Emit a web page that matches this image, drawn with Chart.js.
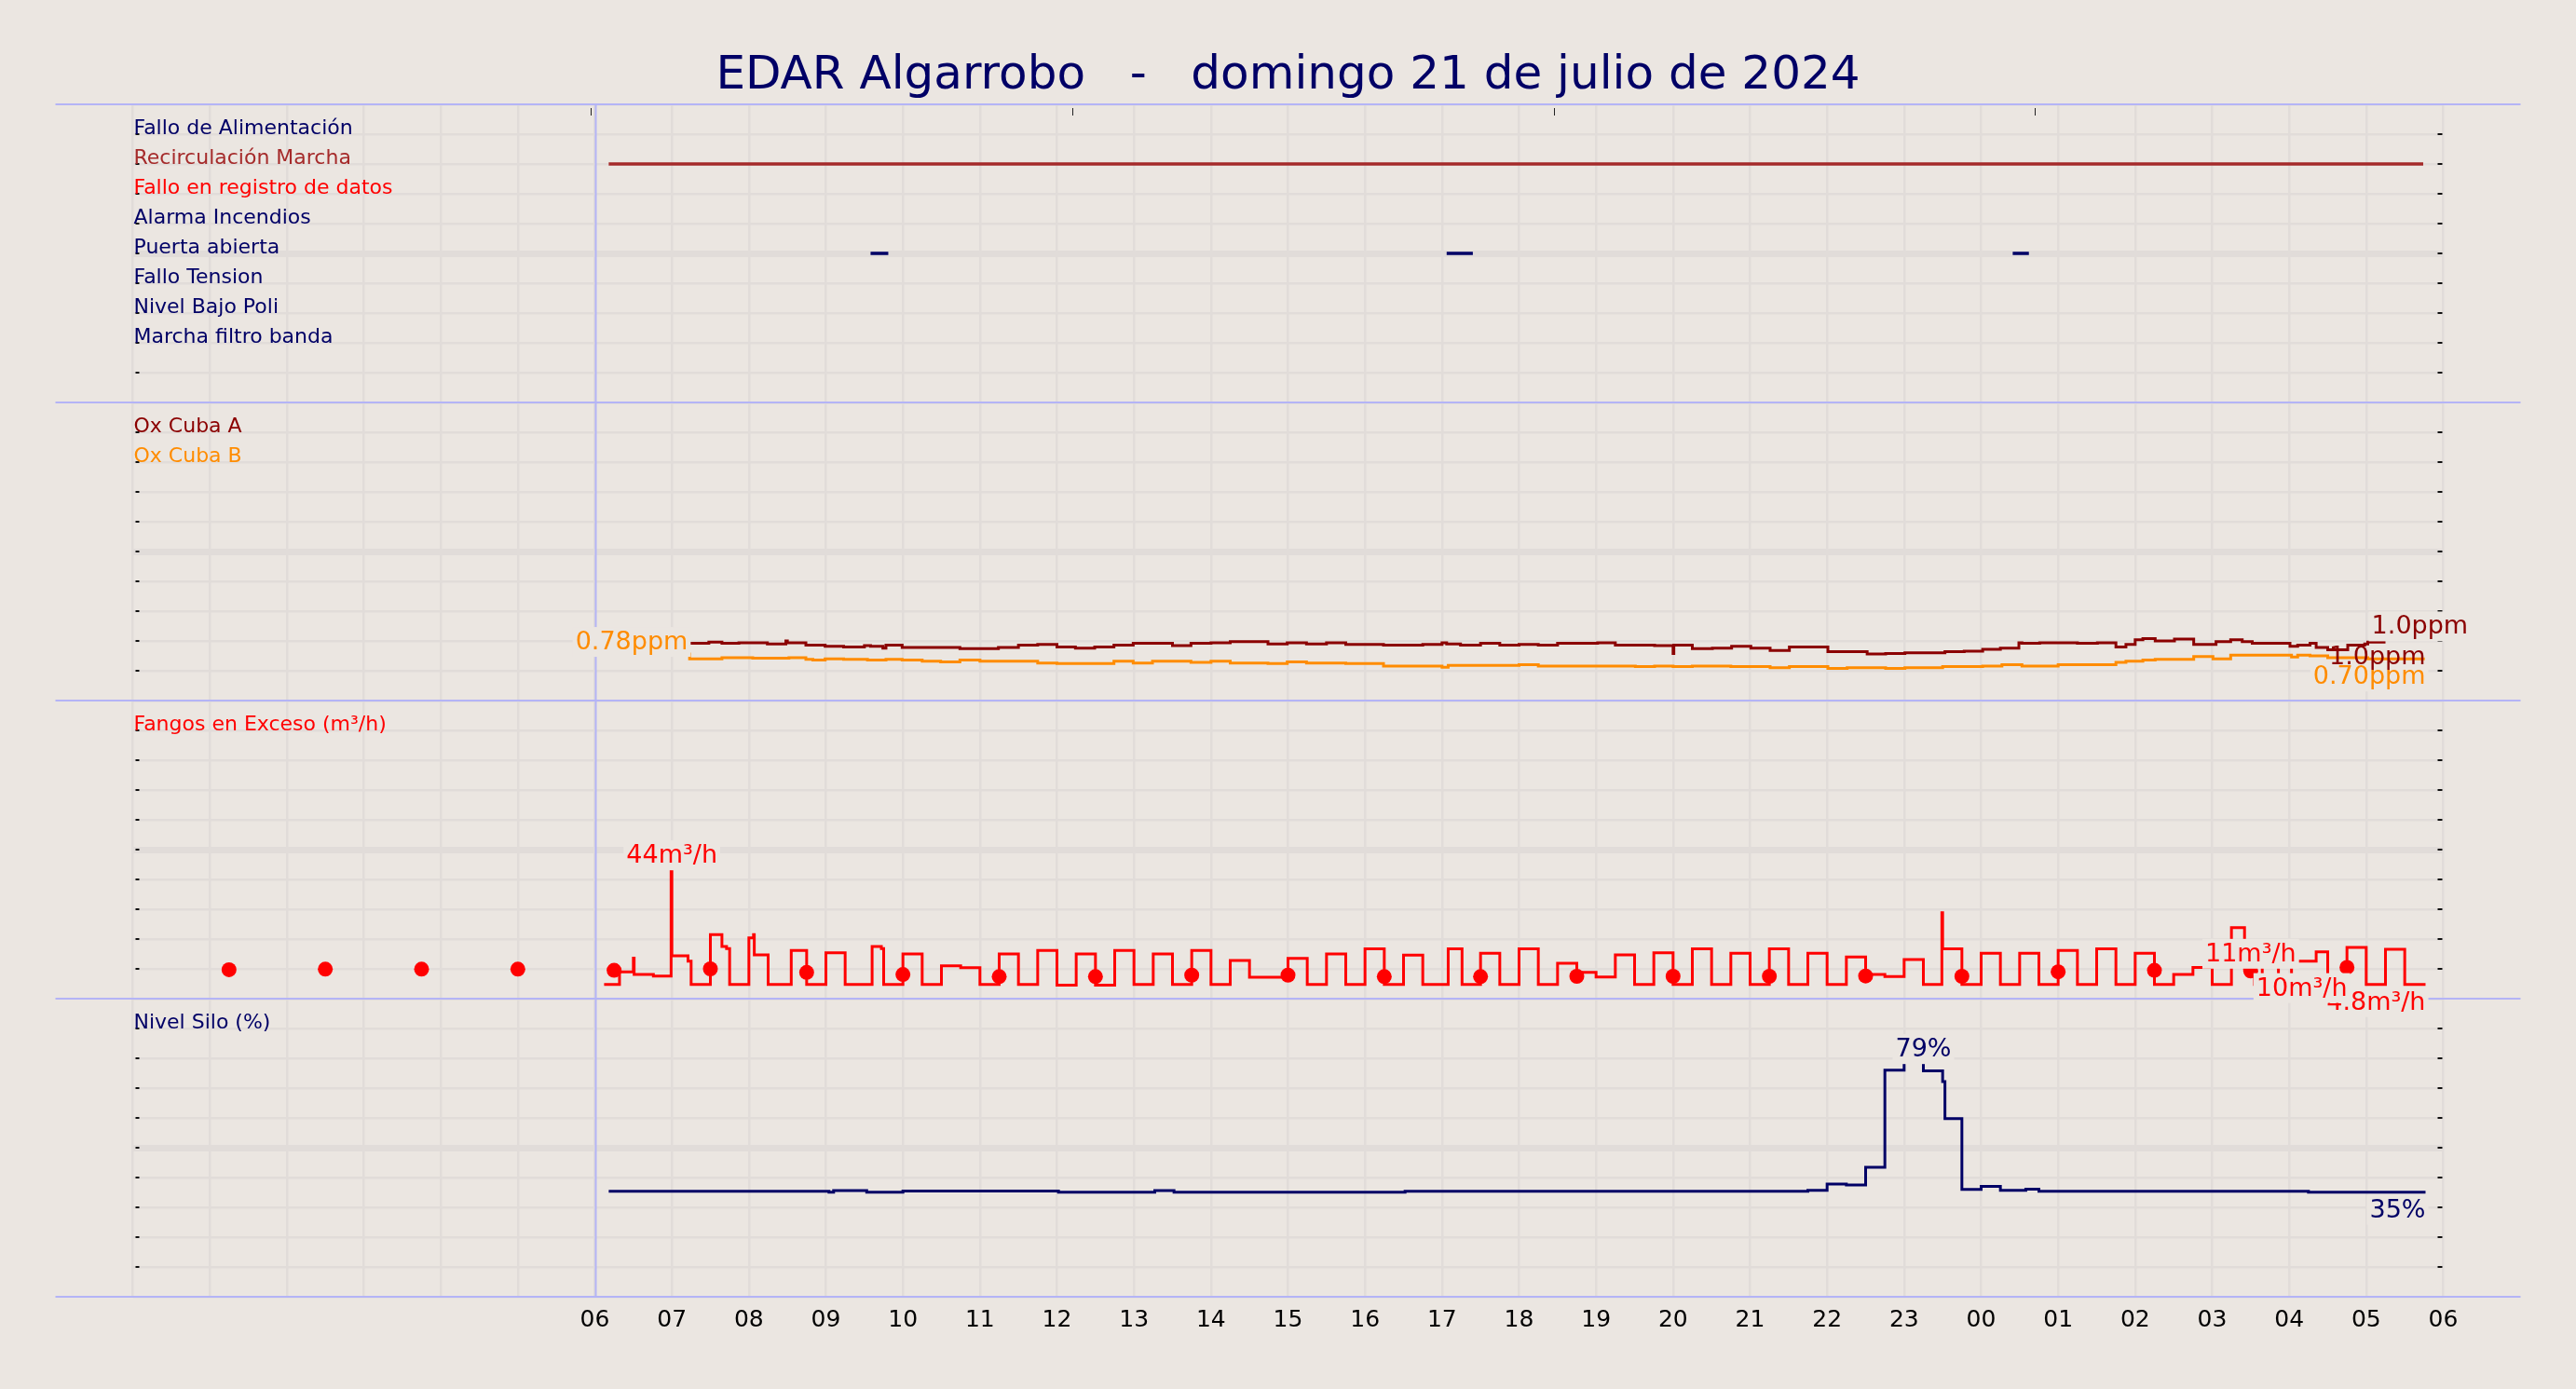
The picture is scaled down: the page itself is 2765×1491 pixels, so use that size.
<!DOCTYPE html>
<html>
<head>
<meta charset="utf-8">
<title>EDAR Algarrobo</title>
<script src="https://cdn.jsdelivr.net/npm/chart.js@4.4.1/dist/chart.umd.min.js"></script>
<style>
  html, body { margin: 0; padding: 0; background: #ebe6e1; }
  canvas { display: block; }
</style>
</head>
<body>
<canvas id="myChart" width="2765" height="1491"></canvas>
<script>
// all times are hours counted from 00:00 of sunday 21 (so 24 = 00:00 of monday)
var startHour = 6;
var topTicks = [5.95, 12.2, 18.45, 24.7];

var signalNames = ["Fallo de Alimentación", "Recirculación Marcha", "Fallo en registro de datos",
  "Alarma Incendios", "Puerta abierta", "Fallo Tension", "Nivel Bajo Poli", "Marcha filtro banda"];
var signalColors = ["#000066", "#a52a2a", "#ff0000", "#000066", "#000066", "#000066", "#000066", "#000066"];
var recircOn = [[6.18, 29.74]];
var puertaOn = [[9.58, 9.81], [17.06, 17.40], [24.41, 24.62]];
var signalSpans = [[], recircOn, [], [], puertaOn, [], [], []];

// Ox Cuba A / B (ppm), step values; last time = end of the line
var oxA_t = [7.23, 7.48, 7.65, 7.87, 8.24, 8.48, 8.5, 8.74, 8.99, 9.23, 9.5, 9.58, 9.74, 9.78, 9.99, 10.74,
  11.24, 11.5, 11.75, 12.0, 12.24, 12.49, 12.74, 12.99, 13.5, 13.74, 14.0, 14.25, 14.74, 14.99, 15.24, 15.5,
  15.75, 16.24, 16.75, 17.0, 17.06, 17.24, 17.5, 17.75, 18.0, 18.25, 18.5, 19.02, 19.25, 19.76, 20.0, 20.01,
  20.25, 20.51, 20.76, 21.01, 21.26, 21.51, 22.01, 22.52, 22.76, 23.01, 23.53, 23.78, 24.02, 24.25, 24.49,
  24.53, 24.76, 25.25, 25.51, 25.75, 25.88, 26.0, 26.1, 26.26, 26.51, 26.76, 27.05, 27.24, 27.39, 27.52,
  28.01, 28.11, 28.27, 28.35, 28.5, 28.76, 28.98, 29.02, 29.25];
var oxA_v = [0.96, 0.98, 0.96, 0.97, 0.95, 1.0, 0.97, 0.93, 0.91, 0.90, 0.92, 0.91, 0.88, 0.93, 0.89, 0.87,
  0.89, 0.93, 0.94, 0.90, 0.88, 0.90, 0.93, 0.96, 0.92, 0.96, 0.97, 0.99, 0.95, 0.97, 0.95, 0.97,
  0.94, 0.93, 0.94, 0.97, 0.95, 0.93, 0.96, 0.93, 0.94, 0.93, 0.96, 0.97, 0.93, 0.92, 0.79, 0.93,
  0.87, 0.88, 0.91, 0.88, 0.84, 0.90, 0.82, 0.78, 0.79, 0.80, 0.82, 0.83, 0.86, 0.88, 0.97,
  0.96, 0.97, 0.96, 0.97, 0.90, 0.94, 1.02, 1.04, 1.0, 1.03, 0.94, 0.99, 1.02, 0.99, 0.96,
  0.91, 0.93, 0.96, 0.89, 0.85, 0.93, 0.95, 0.98];
var oxB_t = [7.22, 7.23, 7.65, 8.05, 8.52, 8.74, 8.83, 8.99, 9.23, 9.54, 9.78, 9.99, 10.25, 10.49, 10.74,
  11.0, 11.75, 12.0, 12.74, 12.99, 13.24, 13.74, 14.0, 14.25, 14.74, 14.99, 15.24, 15.75, 16.24, 17.0, 17.08,
  18.0, 18.25, 19.51, 19.76, 20.0, 20.25, 20.75, 21.26, 21.51, 22.01, 22.26, 22.76, 23.01, 23.5, 24.02,
  24.27, 24.53, 25.0, 25.75, 25.88, 26.1, 26.26, 26.76, 27.01, 27.24, 28.03, 28.11, 28.27, 28.5, 29.02, 29.76];
var oxB_v = [0.78, 0.70, 0.72, 0.71, 0.72, 0.69, 0.68, 0.70, 0.69, 0.68, 0.69, 0.68, 0.66, 0.65, 0.68,
  0.66, 0.63, 0.62, 0.66, 0.63, 0.66, 0.64, 0.66, 0.63, 0.62, 0.65, 0.63, 0.62, 0.58, 0.56, 0.59,
  0.60, 0.58, 0.57, 0.58, 0.57, 0.58, 0.57, 0.55, 0.57, 0.54, 0.55, 0.54, 0.55, 0.57, 0.58,
  0.60, 0.58, 0.60, 0.64, 0.66, 0.68, 0.69, 0.74, 0.70, 0.76, 0.73, 0.76, 0.75, 0.72, 0.70];

// Fangos en Exceso (m3/h)
var fangos_t = [6.12, 6.32, 6.50, 6.51, 6.76, 6.99, 7.0, 7.21, 7.25, 7.5, 7.65, 7.71, 7.75, 8.0, 8.06, 8.07,
  8.25, 8.55, 8.75, 9.0, 9.25, 9.6, 9.72, 9.75, 10.0, 10.25, 10.5, 10.75, 11.0, 11.25, 11.5, 11.75, 12.0,
  12.25, 12.5, 12.75, 13.0, 13.25, 13.5, 13.75, 14.0, 14.25, 14.5, 15.0, 15.25, 15.5, 15.75, 16.0, 16.25,
  16.5, 16.75, 17.08, 17.26, 17.5, 17.75, 18.0, 18.25, 18.5, 18.75, 19.0, 19.25, 19.5, 19.75, 20.0, 20.25,
  20.5, 20.75, 21.0, 21.25, 21.5, 21.75, 22.0, 22.25, 22.5, 22.75, 23.0, 23.25, 23.49, 23.5, 23.75, 24.0,
  24.25, 24.5, 24.75, 25.0, 25.25, 25.5, 25.75, 26.0, 26.25, 26.5, 26.75, 27.0, 27.25, 27.42, 27.55, 27.65,
  27.86, 28.03, 28.35, 28.5, 28.75, 29.0, 29.25, 29.5, 29.77];
var fangos_v = [4.8, 9.0, 13.6, 8.1, 7.6, 44, 14.4, 12.6, 4.8, 21.5, 17.5, 16.8, 4.8, 20.4, 21.5, 14.7,
  4.8, 16.2, 4.8, 15.4, 4.8, 17.5, 16.8, 4.8, 15.0, 4.8, 11.0, 10.4, 4.8, 15.0, 4.8, 16.2, 4.5,
  15.0, 4.5, 16.2, 4.8, 15.0, 4.8, 16.2, 4.8, 12.8, 7.2, 13.5, 4.8, 15.0, 4.8, 16.7, 4.8,
  14.6, 4.8, 16.7, 4.8, 15.2, 4.8, 16.7, 4.8, 11.9, 8.8, 7.3, 14.7, 4.8, 15.4, 4.8, 16.7,
  4.8, 15.2, 4.8, 16.7, 4.8, 15.2, 4.8, 14.0, 8.1, 7.4, 13.1, 4.8, 28.8, 16.7, 4.8, 15.2,
  4.8, 15.2, 4.8, 16.2, 4.8, 16.7, 4.8, 15.2, 4.8, 8.1, 10.5, 4.8, 23.8, 10.0, 4.8, 15.0,
  4.8, 12.6, 15.7, 4.8, 17.2, 4.8, 16.6, 4.8];
var fangosDots_t = [1.25, 2.5, 3.75, 5.0, 6.25, 7.5, 8.75, 10.0, 11.25, 12.5, 13.75, 15.0, 16.25, 17.5,
  18.75, 20.0, 21.25, 22.5, 23.75, 25.0, 26.25, 27.5, 28.75];
var fangosDots_v = [9.7, 9.9, 9.9, 9.9, 9.5, 10.0, 8.8, 8.1, 7.4, 7.4, 7.9, 7.9, 7.4, 7.4,
  7.5, 7.5, 7.5, 7.6, 7.5, 9.0, 9.5, 9.3, 10.5];

// Nivel Silo (%)
var silo_t = [6.18, 9.04, 9.10, 9.53, 10.0, 12.02, 13.27, 13.52, 16.52, 21.75, 22.0, 22.25, 22.5, 22.75,
  23.0, 23.25, 23.5, 23.53, 23.75, 24.0, 24.25, 24.58, 24.75, 28.25, 29.77];
var silo_v = [35.4, 35.1, 35.6, 35.1, 35.5, 35.1, 35.6, 35.1, 35.4, 35.7, 37.8, 37.5, 43.4, 76.0,
  79, 75.8, 72.2, 59.8, 36.0, 37.0, 35.7, 36.1, 35.4, 35.1];

var navy = "#000066", darkred = "#8b0000", orange = "#ff8c00", red = "#ff0000";
var bg = "#ebe6e1", gridColor = "#e1dcd9", frameBlue = "#b4b4f6";

var notes = [
  {text: "0.78ppm", axis: "yOx", x: 7.22, y: 0.78, align: "right", va: "bottom", color: orange, dx: -1},
  {text: "1.0ppm", axis: "yOx", x: 29.07, y: 1.04, align: "left", va: "bottom", color: darkred},
  {text: "0.70ppm", axis: "yOx", x: 29.77, y: 0.70, align: "right", va: "top", color: orange},
  {text: "1.0ppm", axis: "yOx", x: 29.77, y: 0.98, align: "right", va: "top", color: darkred, dy: -3, box: false},
  {text: "44m³/h", axis: "yFan", x: 7.0, y: 44, align: "center", va: "bottom", color: red},
  {text: "4.8m³/h", axis: "yFan", x: 29.77, y: 4.8, align: "right", va: "top", color: red},
  {text: "11m³/h", axis: "yFan", x: 27.5, y: 11, align: "center", va: "bottom", color: red},
  {text: "10m³/h", axis: "yFan", x: 27.5, y: 9.5, align: "left", va: "top", color: red, dx: 6},
  {text: "79%", axis: "ySilo", x: 23.25, y: 79, align: "center", va: "bottom", color: navy},
  {text: "35%", axis: "ySilo", x: 29.77, y: 35.1, align: "right", va: "top", color: navy}
];

function steps(t, v) {
  var pts = [];
  for (var i = 0; i < v.length; i++) pts.push({x: t[i], y: v[i]});
  pts.push({x: t[t.length - 1], y: v[v.length - 1]});
  return pts;
}

function spans(list, level) {
  var pts = [];
  list.forEach(function (s) {
    pts.push({x: s[0], y: level}, {x: s[1], y: level}, {x: s[1], y: null});
  });
  return pts;
}

var datasets = [];
signalNames.forEach(function (name, i) {
  datasets.push({label: name, yAxisID: "ySig", row: 9 - i, data: spans(signalSpans[i], 9 - i),
    borderColor: signalColors[i], borderWidth: 3.4, pointRadius: 0});
});
datasets.push({label: "Ox Cuba A", yAxisID: "yOx", row: 9, data: steps(oxA_t, oxA_v),
  borderColor: darkred, borderWidth: 3, pointRadius: 0, stepped: true});
datasets.push({label: "Ox Cuba B", yAxisID: "yOx", row: 8, data: steps(oxB_t, oxB_v),
  borderColor: orange, borderWidth: 3, pointRadius: 0, stepped: true});
datasets.push({label: "Fangos en Exceso (m³/h)", yAxisID: "yFan", row: 9, data: steps(fangos_t, fangos_v),
  borderColor: red, borderWidth: 3, pointRadius: 0, stepped: true});
datasets.push({label: "fangos media", yAxisID: "yFan",
  data: fangosDots_t.map(function (t, i) { return {x: t, y: fangosDots_v[i]}; }),
  showLine: false, pointRadius: 8, pointBackgroundColor: red, pointBorderWidth: 0});
datasets.push({label: "Nivel Silo (%)", yAxisID: "ySilo", row: 9, data: steps(silo_t, silo_v),
  borderColor: navy, borderWidth: 3, pointRadius: 0, stepped: true});

var overlay = {
  id: "overlay",
  beforeDatasetsDraw: function (chart) {
    var ctx = chart.ctx, a = chart.chartArea, x = chart.scales.x;
    var panels = ["ySig", "yOx", "yFan", "ySilo"];
    ctx.save();
    // small ticks inside the frame
    ctx.fillStyle = "#111";
    panels.forEach(function (id) {
      var s = chart.scales[id];
      s.ticks.forEach(function (t, i) {
        if (i === 0 || i === s.ticks.length - 1) return;
        var y = Math.round(s.getPixelForValue(t.value));
        ctx.fillRect(a.left + 3, y - 1, 4, 2);
        ctx.fillRect(a.right - 6, y - 1, 5, 2);
      });
    });
    ctx.fillStyle = "#222";
    topTicks.forEach(function (h) {
      ctx.fillRect(Math.round(x.getPixelForValue(h)), a.top + 4, 1, 8);
    });
    // blue frame lines
    ctx.strokeStyle = frameBlue;
    ctx.lineWidth = 2;
    ctx.beginPath();
    panels.forEach(function (id) {
      var y = chart.scales[id].top;
      ctx.moveTo(a.left - 83, y); ctx.lineTo(a.right + 83, y);
    });
    ctx.moveTo(a.left - 83, a.bottom); ctx.lineTo(a.right + 83, a.bottom);
    var x6 = Math.round(x.getPixelForValue(startHour)) + 0.5;
    ctx.moveTo(x6, a.top); ctx.lineTo(x6, a.bottom);
    ctx.stroke();
    ctx.restore();
  },
  afterDatasetsDraw: function (chart) {
    var ctx = chart.ctx, a = chart.chartArea;
    ctx.save();
    ctx.textAlign = "left";
    ctx.textBaseline = "alphabetic";
    ctx.font = '22px "DejaVu Sans"';
    chart.data.datasets.forEach(function (ds) {
      if (ds.row === undefined) return;
      var s = chart.scales[ds.yAxisID];
      var y = s.getPixelForValue(s.min + ds.row * (s.max - s.min) / 10);
      ctx.fillStyle = ds.borderColor;
      ctx.fillText(ds.label, a.left + 1, y);
    });
    ctx.font = '27px "DejaVu Sans"';
    notes.forEach(function (n) {
      var px = chart.scales.x.getPixelForValue(n.x) + (n.dx || 0);
      var py = chart.scales[n.axis].getPixelForValue(n.y);
      var base = (n.va === "top" ? py + 27 : py - 5) + (n.dy || 0);
      var w = ctx.measureText(n.text).width;
      var left = n.align === "left" ? px : n.align === "right" ? px - w : px - w / 2;
      if (n.box !== false) {
        ctx.fillStyle = bg;
        ctx.fillRect(left - 3, base - 24, w + 6, 32);
      }
      ctx.fillStyle = n.color;
      ctx.fillText(n.text, left, base);
    });
    ctx.restore();
  }
};

// stacked panels: chart.js places the higher weight on top here
function panelAxis(weight, max, step) {
  return {
    type: "linear", position: "left", stack: "panels", stackWeight: 1, weight: weight,
    min: 0, max: max,
    ticks: {display: false, stepSize: step},
    grid: {color: gridColor, drawTicks: false,
      lineWidth: function (c) { return c.index === 5 ? 7 : 2.6; }},
    border: {display: false},
    afterFit: function (s) { s.width = 0; }
  };
}

Chart.defaults.font.family = "DejaVu Sans";

var ctx = document.getElementById("myChart");
var myChart = new Chart(ctx, {
  type: "line",
  data: {datasets: datasets},
  options: {
    responsive: false,
    animation: false,
    devicePixelRatio: 1,
    layout: {autoPadding: false, padding: {left: 142.5, right: 142.5, top: 0, bottom: 39}},
    elements: {line: {tension: 0, borderCapStyle: "butt"}},
    plugins: {
      legend: {display: false},
      tooltip: {enabled: false},
      title: {
        display: true,
        text: "EDAR Algarrobo   -   domingo 21 de julio de 2024",
        color: navy,
        font: {size: 50, weight: "normal", lineHeight: 1.2},
        padding: {top: 52, bottom: 0}
      }
    },
    scales: {
      x: {
        type: "linear", min: 0, max: 30, position: "bottom",
        ticks: {
          stepSize: 1, autoSkip: false, maxRotation: 0, color: "#000", padding: 10,
          font: {size: 25},
          callback: function (v) { return v >= startHour ? String(v % 24).padStart(2, "0") : ""; }
        },
        grid: {color: gridColor, lineWidth: 2.5, drawTicks: false},
        border: {display: false},
        afterFit: function (s) { s.height = 60; }
      },
      ySig: panelAxis(4, 10, 1),
      yOx: panelAxis(3, 5, 0.5),
      yFan: panelAxis(2, 100, 10),
      ySilo: panelAxis(1, 100, 10)
    }
  },
  plugins: [overlay]
});
</script>
</body>
</html>
